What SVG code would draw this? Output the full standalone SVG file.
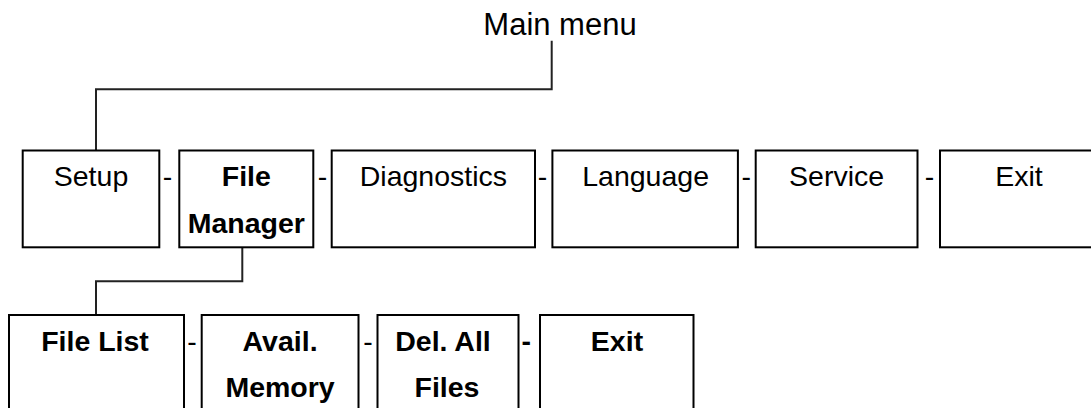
<svg xmlns="http://www.w3.org/2000/svg" width="1091" height="408" viewBox="0 0 1091 408">
<style>
.box{fill:#fff;stroke:#000;stroke-width:2}
.con{fill:none;stroke:#222;stroke-width:2}
.t{font-family:"Liberation Sans",Arial,sans-serif;font-size:28.5px;fill:#000;text-anchor:middle}
.b{font-weight:bold}
.title{font-family:"Liberation Sans",Arial,sans-serif;font-size:31px;fill:#000;text-anchor:middle}
</style>
<rect width="1091" height="408" fill="#fff"/>
<text class="title" x="560" y="35">Main menu</text>
<g id="connectors">
<path class="con" d="M551.7 40.7 V89.3 H96 V150.5"/>
<path class="con" d="M242.3 247.3 V281.3 H96 V315"/>
</g>
<g id="setup"><rect class="box" x="22.7" y="150.5" width="136.6" height="96.8"/><text class="t" x="91" y="186">Setup</text></g>
<text class="t" x="167.5" y="186">-</text>
<g id="filemanager"><rect class="box" x="179.3" y="150.5" width="134" height="96.8"/><text class="t b" x="246.3" y="186">File</text><text class="t b" x="246.3" y="232.7">Manager</text></g>
<text class="t" x="322.4" y="186">-</text>
<g id="diagnostics"><rect class="box" x="331.7" y="150.5" width="203.3" height="96.8"/><text class="t" x="433.4" y="186">Diagnostics</text></g>
<text class="t" x="542.5" y="186">-</text>
<g id="language"><rect class="box" x="552.4" y="150.5" width="185.5" height="96.8"/><text class="t" x="645.6" y="186">Language</text></g>
<text class="t" x="746.3" y="186">-</text>
<g id="service"><rect class="box" x="755.7" y="150.5" width="161.8" height="96.8"/><text class="t" x="836.6" y="186">Service</text></g>
<text class="t" x="929.5" y="186">-</text>
<g id="exit"><rect class="box" x="940" y="150.5" width="160" height="96.8"/><text class="t" x="1019" y="186">Exit</text></g>
<g id="filelist"><rect class="box" x="9" y="315" width="175" height="100"/><text class="t b" x="95" y="351">File List</text></g>
<text class="t" x="192" y="351">-</text>
<g id="availmemory"><rect class="box" x="201.7" y="315" width="156.8" height="100"/><text class="t b" x="280.1" y="351">Avail.</text><text class="t b" x="280.1" y="397">Memory</text></g>
<text class="t" x="367.9" y="351">-</text>
<g id="delallfiles"><rect class="box" x="377.5" y="315" width="141" height="100"/><text class="t b" x="443" y="351">Del. All</text><text class="t b" x="447" y="397">Files</text></g>
<text class="t b" x="526.3" y="351">-</text>
<g id="exit2"><rect class="box" x="540" y="315" width="153.5" height="100"/><text class="t b" x="617" y="351">Exit</text></g>
</svg>
